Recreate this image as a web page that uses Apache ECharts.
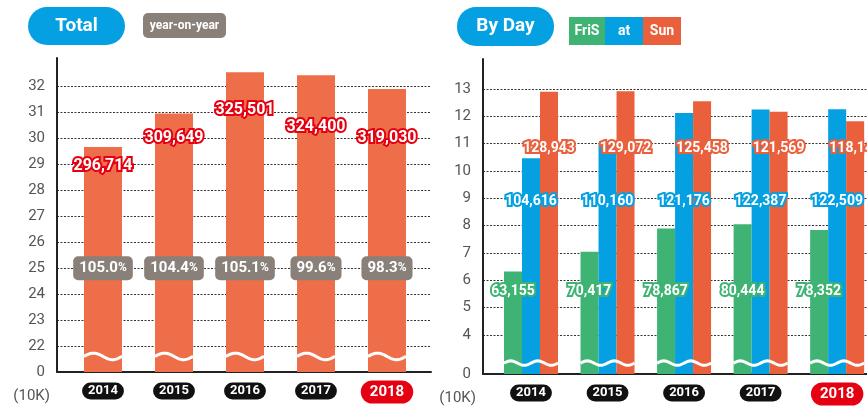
<!DOCTYPE html>
<html>
<head>
<meta charset="utf-8">
<script src="https://cdn.jsdelivr.net/npm/echarts@6/dist/echarts.min.js"></script>
<style>
  html, body { margin: 0; padding: 0; background: #fff; }
  #main { width: 867px; height: 406px; }
</style>
</head>
<body>
<div id="main"></div>
<script>
// データ
const years = ['2014', '2015', '2016', '2017', '2018'];
const totalValues = [296714, 309649, 325501, 324400, 319030];
const yoyRates = [105.0, 104.4, 105.1, 99.6, 98.3];
const friValues = [63155, 70417, 78867, 80444, 78352];
const satValues = [104616, 110160, 121176, 122387, 122509];
const sunValues = [128943, 129072, 125458, 121569, 118146];
const totalTicks = [22, 23, 24, 25, 26, 27, 28, 29, 30, 31, 32];
const dayTicks = [4, 5, 6, 7, 8, 9, 10, 11, 12, 13];

const FONT = 'Roboto, "Noto Sans", sans-serif';
const ORANGE_L = '#ee6e49';
const ORANGE = '#ea603d';
const BLUE = '#05a0e2';
const GREEN = '#3fb374';
const GRAY = '#8a807a';
const RED = '#e50012';

// 軸の切れ目（0 の位置）
const totalBase = 21;
const dayBase = 2.566;

const toMan = v => v / 10000;
const fmt = v => v.toLocaleString('en-US');

// 各ラベルの高さ（軸の単位）
const totalLabelAt = [28.92, 30.03, 31.1, 30.45, 30.0];
const dayLabelAt = [5.6, 8.89, 10.8];

const chart = echarts.init(document.getElementById('main'));

const yearRich = {
  y: { backgroundColor: '#111', color: '#fff', fontFamily: FONT, fontWeight: 'bold', fontSize: 13,
       lineHeight: 14, padding: [2, 6], borderRadius: 9 },
  r: { backgroundColor: RED, color: '#fff', fontFamily: FONT, fontWeight: 'bold', fontSize: 15,
       lineHeight: 16, padding: [4, 9], borderRadius: 12 }
};

function xAxisOf(gi, min, max) {
  return {
    gridIndex: gi, type: 'value', min: min, max: max,
    axisLine: { show: true, onZero: false, lineStyle: { color: '#222', width: 2 } },
    axisTick: { show: false },
    splitLine: { show: false },
    axisLabel: {
      customValues: [0, 1, 2, 3, 4], margin: 12,
      formatter: v => (v === 4 ? '{r|' : '{y|') + years[v] + '}',
      rich: yearRich
    }
  };
}

function yAxisOf(gi, min, max, ticks) {
  const vals = [min].concat(ticks);
  return {
    gridIndex: gi, type: 'value', min: min, max: max,
    name: '(10K)', nameLocation: 'start', nameGap: 17,
    nameTextStyle: { color: '#555', fontFamily: FONT, fontSize: 15, align: 'right', padding: [0, 7, 0, 0] },
    axisLine: { show: true, onZero: false, lineStyle: { color: '#222', width: 2 } },
    axisTick: { show: false, customValues: vals },
    axisLabel: {
      customValues: vals, margin: 12, color: '#555', fontFamily: FONT, fontSize: 15,
      formatter: v => (v === min ? '0' : String(v))
    },
    splitLine: { show: true, showMinLine: false, lineStyle: { color: '#333', width: 1, type: [2, 1.5] } }
  };
}

// 白い波線（省略記号）
function waveItem(halfW, amp, periods) {
  return function (params, api) {
    const c = api.coord([api.value(0), api.value(1)]);
    const pts = [];
    for (let k = 0; k <= 40; k++) {
      const t = k / 40;
      pts.push([c[0] - halfW + 2 * halfW * t, c[1] - amp * Math.sin(2 * Math.PI * periods * t)]);
    }
    return { type: 'polyline', shape: { points: pts }, style: { stroke: '#fff', lineWidth: 3, fill: null } };
  };
}

// 白文字＋色の縁取り（縁を下に敷いてから白を重ねる）
function outlinedText(x, y, text, stroke, size) {
  const font = 'bold ' + size + 'px ' + FONT;
  return {
    type: 'group',
    children: [
      { type: 'text', x: x, y: y,
        style: { text: text, fill: stroke, stroke: stroke, lineWidth: 4, lineJoin: 'round',
                 font: font, align: 'center', verticalAlign: 'middle' } },
      { type: 'text', x: x, y: y,
        style: { text: text, fill: '#fff', font: font, align: 'center', verticalAlign: 'middle' } }
    ]
  };
}

const option = {
  animation: false,
  title: [
    { left: 28, top: 7, padding: 0, text: '{p|Total}',
      textStyle: { rich: { p: { width: 97, height: 38, lineHeight: 38, align: 'center', backgroundColor: BLUE,
        borderRadius: 19, color: '#fff', fontFamily: FONT, fontWeight: 'bold', fontSize: 19 } } } },
    { left: 143, top: 13, padding: 0, text: '{p|year-on-year}',
      textStyle: { rich: { p: { width: 83, height: 25, lineHeight: 25, align: 'center', backgroundColor: GRAY,
        borderRadius: 5, color: '#fff', fontFamily: FONT, fontWeight: 'bold', fontSize: 12 } } } },
    { left: 457, top: 7, padding: 0, text: '{p|By Day}',
      textStyle: { rich: { p: { width: 97, height: 39, lineHeight: 39, align: 'center', backgroundColor: BLUE,
        borderRadius: 19, color: '#fff', fontFamily: FONT, fontWeight: 'bold', fontSize: 19 } } } },
    { left: 569, top: 17, padding: 0, text: '{a|FriS}{b|at}{c|Sun}',
      textStyle: { rich: {
        a: { width: 36, height: 28, lineHeight: 28, align: 'right', backgroundColor: GREEN, color: '#fff',
             fontFamily: FONT, fontWeight: 'bold', fontSize: 14 },
        b: { width: 38, height: 28, lineHeight: 28, align: 'center', backgroundColor: BLUE, color: '#fff',
             fontFamily: FONT, fontWeight: 'bold', fontSize: 14 },
        c: { width: 38, height: 28, lineHeight: 28, align: 'center', backgroundColor: ORANGE, color: '#fff',
             fontFamily: FONT, fontWeight: 'bold', fontSize: 14 } } } }
  ],
  grid: [
    { left: 57, right: 436, top: 58, bottom: 34 },
    { left: 483, right: 0, top: 59, bottom: 31 }
  ],
  xAxis: [xAxisOf(0, -0.648, 4.62), xAxisOf(1, -0.627, 4.39)],
  yAxis: [yAxisOf(0, totalBase, 33.1, totalTicks), yAxisOf(1, dayBase, 14.09, dayTicks)],
  series: [
    {
      type: 'bar', xAxisIndex: 0, yAxisIndex: 0, barWidth: 38,
      itemStyle: { color: ORANGE_L },
      data: totalValues.map((v, i) => [i, toMan(v)])
    },
    {
      type: 'custom', xAxisIndex: 0, yAxisIndex: 0, z: 3,
      renderItem: waveItem(19, 3.3, 1),
      data: years.map((y, i) => [i, totalBase + 0.6])
    },
    {
      type: 'custom', xAxisIndex: 0, yAxisIndex: 0, z: 4,
      renderItem: function (params, api) {
        const i = params.dataIndex;
        const c = api.coord([i, totalLabelAt[i]]);
        return outlinedText(c[0], c[1], fmt(totalValues[i]), RED, 16);
      },
      data: years.map((y, i) => [i, totalLabelAt[i]])
    },
    {
      type: 'custom', xAxisIndex: 0, yAxisIndex: 0, z: 4,
      renderItem: function (params, api) {
        const i = params.dataIndex;
        const c = api.coord([i, 25]);
        return {
          type: 'text', x: c[0], y: c[1],
          style: {
            text: '{n|' + yoyRates[i].toFixed(1) + '}{p|%}',
            align: 'center', verticalAlign: 'middle',
            backgroundColor: GRAY, borderRadius: 5, padding: [4, 6],
            rich: {
              n: { fill: '#fff', font: 'bold 15px ' + FONT, lineHeight: 16 },
              p: { fill: '#fff', font: 'bold 12px ' + FONT, lineHeight: 16 }
            }
          }
        };
      },
      data: years.map((y, i) => [i, 25])
    },
    {
      name: 'Fri', type: 'bar', xAxisIndex: 1, yAxisIndex: 1, barWidth: 18, barGap: '0%',
      itemStyle: { color: GREEN },
      data: friValues.map((v, i) => [i, toMan(v)])
    },
    {
      name: 'Sat', type: 'bar', xAxisIndex: 1, yAxisIndex: 1, barWidth: 18, barGap: '0%',
      itemStyle: { color: BLUE },
      data: satValues.map((v, i) => [i, toMan(v)])
    },
    {
      name: 'Sun', type: 'bar', xAxisIndex: 1, yAxisIndex: 1, barWidth: 18, barGap: '0%',
      itemStyle: { color: ORANGE },
      data: sunValues.map((v, i) => [i, toMan(v)])
    },
    {
      type: 'custom', xAxisIndex: 1, yAxisIndex: 1, z: 3,
      renderItem: waveItem(27, 2.2, 2),
      data: years.map((y, i) => [i, dayBase + 0.4])
    },
    {
      type: 'custom', xAxisIndex: 1, yAxisIndex: 1, z: 4,
      renderItem: function (params, api) {
        const i = params.dataIndex;
        const groups = [[friValues, GREEN], [satValues, BLUE], [sunValues, ORANGE]];
        const children = groups.map(function (g, k) {
          const c = api.coord([i, dayLabelAt[k]]);
          return outlinedText(c[0] + (k - 1) * 18, c[1], fmt(g[0][i]), g[1], 14);
        });
        return { type: 'group', children: children };
      },
      data: years.map((y, i) => [i, dayLabelAt[1]])
    }
  ]
};

chart.setOption(option);
</script>
</body>
</html>
